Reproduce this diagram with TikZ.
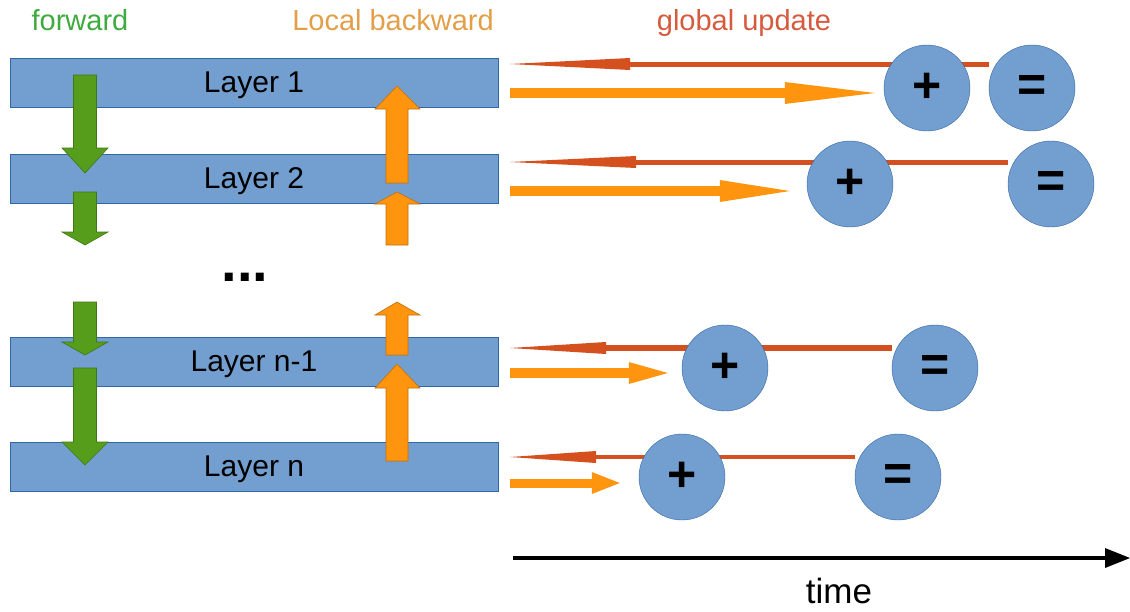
\documentclass[tikz,border=0pt]{standalone}
\usepackage{fontspec}
\setmainfont{Liberation Sans}
\usepackage{xcolor}
\usetikzlibrary{arrows.meta}

\definecolor{layerblue}{HTML}{729FCF}
\definecolor{layeredge}{HTML}{3465A4}
\definecolor{fwdgreen}{HTML}{579D1C}
\definecolor{fwdtext}{HTML}{3FAA3F}
\definecolor{bwdorange}{HTML}{FF950E}
\definecolor{bwdtext}{HTML}{E29F48}
\definecolor{updred}{HTML}{D4501F}
\definecolor{updtext}{HTML}{D65A3C}

\pgfdeclarelayer{back}
\pgfsetlayers{back,main}

\tikzset{
  layer/.style={draw=layeredge, fill=layerblue, minimum width=488pt,
    minimum height=49pt, inner sep=0pt, text depth=0pt,
    font=\fontsize{30}{30}\selectfont},
  op/.style={circle, draw=layeredge, fill=layerblue, minimum size=86pt,
    inner sep=0pt, font=\fontsize{50}{50}\selectfont\bfseries},
  fwd/.style={fill=fwdgreen, draw=fwdgreen!75!black, line width=0.6pt},
  bwd/.style={fill=bwdorange, draw=bwdorange!75!black, line width=0.6pt},
  title/.style={anchor=base, font=\fontsize{29}{29}\selectfont},
  upd/.style={draw=updred, line width=5pt,
    -{Triangle[length=#1, width=12pt, line width=0pt]}},
  loc/.style={draw=bwdorange, line width=10pt,
    -{Triangle[length=#1, width=22pt, line width=0pt]}},
}

\begin{document}
\begin{tikzpicture}[x=1pt, y=-1pt]
  \useasboundingbox (0,0) rectangle (1130,611);

  \node[title, text=fwdtext] (fwdlabel) at (80,30) {forward};
  \node[title, text=bwdtext] (bwdlabel) at (393,30) {Local backward};
  \node[title, text=updtext] (updlabel) at (744,30) {global update};

  \node[layer] (l1) at (254,82.5) {Layer 1};
  \node[layer] (l2) at (254,178.5) {Layer 2};
  \node[layer] (ln1) at (254,361.5) {Layer n-1};
  \node[layer] (ln) at (254,466.5) {Layer n};
  \node[anchor=base, font=\fontsize{56}{56}\selectfont\bfseries] (dots)
    at (245,281) {...};

  \foreach \top/\neck/\tip in {75/148/173, 192/232/245, 302/342/355, 368/442/465}
    \draw[fwd] (73.5,\top) -- (96.5,\top) -- (96.5,\neck) -- (108,\neck)
      -- (85,\tip) -- (62,\neck) -- (73.5,\neck) -- cycle;
  \foreach \bot/\neck/\tip in {183/109/86, 245/204/192, 355/315/302, 461/388/364}
    \draw[bwd] (386,\bot) -- (408,\bot) -- (408,\neck) -- (420,\neck)
      -- (397,\tip) -- (375,\neck) -- (386,\neck) -- cycle;

  \node[op] (add1) at (927,88) {+};
  \node[op] (eq1) at (1032,88) {=};
  \node[op] (add2) at (850,184) {+};
  \node[op] (eq2) at (1051,184) {=};
  \node[op] (addn1) at (725,368) {+};
  \node[op] (eqn1) at (935,368) {=};
  \node[op] (addn) at (682,477) {+};
  \node[op] (eqn) at (898,477) {=};

  \coordinate (u1) at (510,64);
  \coordinate (u2) at (510,162);
  \coordinate (un1) at (510,348);
  \coordinate (un) at (510,457);
  \begin{pgfonlayer}{back}
    \draw[upd=120pt] (eq1.west |- u1) -- (u1);
    \draw[upd=126pt] (eq2.west |- u2) -- (u2);
    \draw[upd=96pt, line width=5.5pt] (eqn1.west |- un1) -- (un1);
    \draw[upd=86pt, line width=4pt] (eqn.west |- un) -- (un);
  \end{pgfonlayer}

  \coordinate (b1) at (510,93);
  \coordinate (b2) at (510,191);
  \coordinate (bn1) at (510,373);
  \coordinate (bn) at (510,483);
  \draw[loc=90pt, shorten >=9pt] (b1) -- (add1.west |- b1);
  \draw[loc=70pt, shorten >=17pt] (b2) -- (add2.west |- b2);
  \draw[loc=39pt, shorten >=14pt] (bn1) -- (addn1.west |- bn1);
  \draw[loc=28pt, line width=9pt, shorten >=19pt] (bn) -- (addn.west |- bn);

  \coordinate (t0) at (513,558);
  \coordinate (t1) at (1130,558);
  \draw[line width=4.5pt, -{Triangle[length=25pt, width=20pt, line width=0pt]}]
    (t0) -- (t1);
  \node[anchor=base, font=\fontsize{35}{35}\selectfont] (timelabel)
    at (839,603) {time};
\end{tikzpicture}
\end{document}
